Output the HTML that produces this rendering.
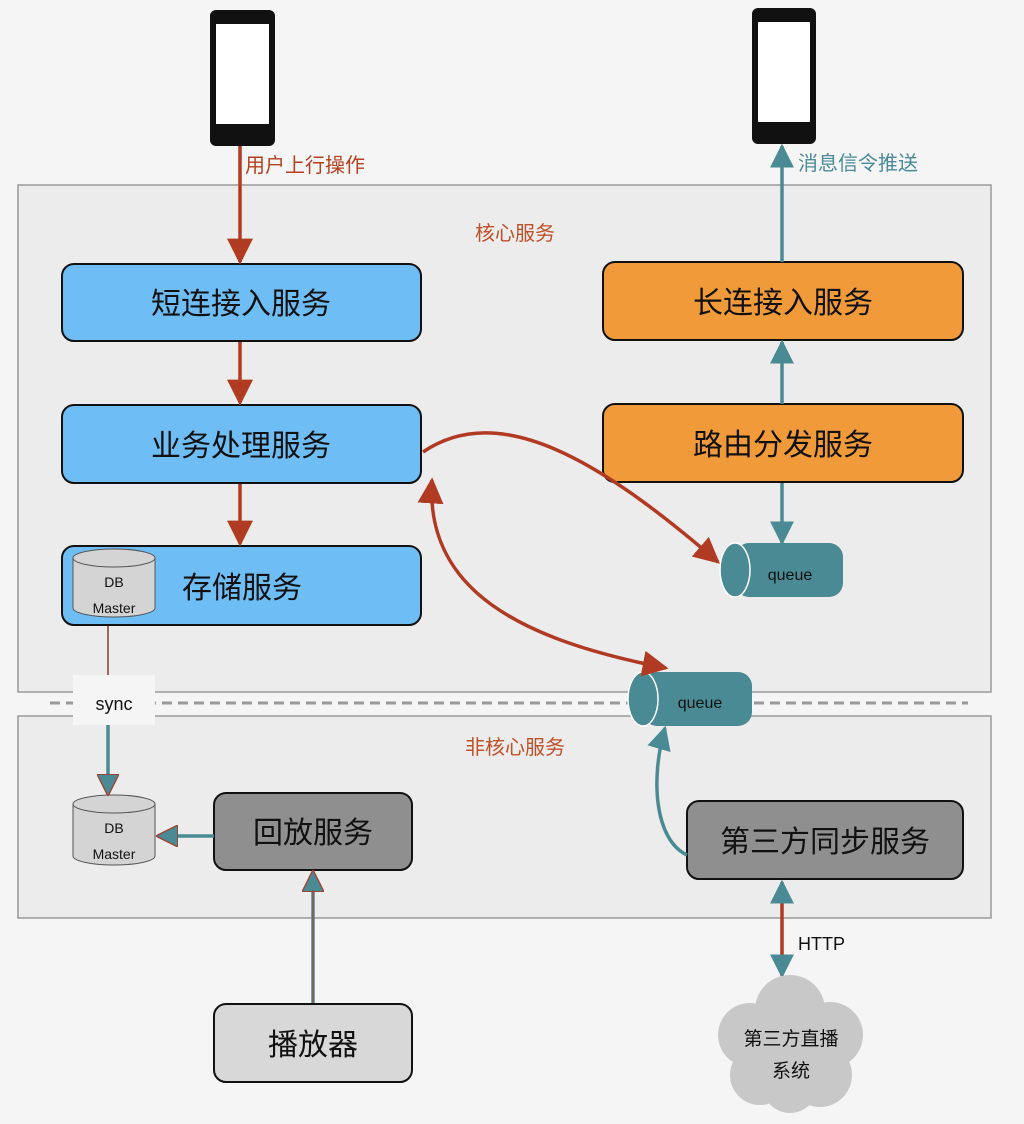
<!DOCTYPE html>
<html><head><meta charset="utf-8"><style>
html,body{margin:0;padding:0;background:#f4f5f4;}
svg{display:block;font-family:"Liberation Sans","Noto Sans CJK SC",sans-serif;}
</style></head><body>
<svg width="1024" height="1124" viewBox="0 0 1024 1124">
<defs>
<marker id="ar" markerWidth="10" markerHeight="10" refX="8" refY="5" orient="auto" markerUnits="userSpaceOnUse" viewBox="0 0 10 10"><path d="M0,0 L10,5 L0,10 z" fill="#b03a22"/></marker>
<marker id="ar2" viewBox="0 0 10 10" markerWidth="26" markerHeight="26" refX="9" refY="5" orient="auto-start-reverse" markerUnits="userSpaceOnUse"><path d="M0,0 L10,5 L0,10 z" fill="#b03a22"/></marker>
<marker id="at" viewBox="0 0 10 10" markerWidth="24" markerHeight="24" refX="9" refY="5" orient="auto-start-reverse" markerUnits="userSpaceOnUse"><path d="M0,0 L10,5 L0,10 z" fill="#4a8a94"/></marker>
<marker id="atr" viewBox="0 0 10 10" markerWidth="22" markerHeight="22" refX="9" refY="5" orient="auto-start-reverse" markerUnits="userSpaceOnUse"><path d="M0,0 L10,5 L0,10 z" fill="#4a8a94" stroke="#a04030" stroke-width="0.6"/></marker>
</defs>
<rect x="18" y="185" width="973" height="507" fill="#ececec" stroke="#9a9a9a" stroke-width="1.5"/>
<rect x="18" y="716" width="973" height="202" fill="#ececec" stroke="#9a9a9a" stroke-width="1.5"/>
<line x1="50" y1="703" x2="968" y2="703" stroke="#999" stroke-width="3" stroke-dasharray="10,6"/>

<!-- phones -->
<rect x="210" y="10" width="65" height="136" rx="6" fill="#111"/>
<rect x="216" y="24" width="53" height="100" fill="#fff"/>
<rect x="752" y="8" width="64" height="136" rx="6" fill="#111"/>
<rect x="758" y="22" width="52" height="100" fill="#fff"/>

<g font-size="20">
<text x="245" y="172" fill="#b5401f">用户上行操作</text>
<text x="798" y="170" fill="#4a8a99">消息信令推送</text>
<text x="515" y="240" fill="#c0502a" text-anchor="middle">核心服务</text>
<text x="515" y="754" fill="#c0502a" text-anchor="middle">非核心服务</text>
</g>

<!-- boxes -->
<g stroke="#111" stroke-width="2">
<rect x="62" y="264" width="359" height="77" rx="12" fill="#6fbdf5"/>
<rect x="62" y="405" width="359" height="78" rx="12" fill="#6fbdf5"/>
<rect x="62" y="546" width="359" height="79" rx="12" fill="#6fbdf5"/>
<rect x="603" y="262" width="360" height="78" rx="12" fill="#f09a3a"/>
<rect x="603" y="404" width="360" height="78" rx="12" fill="#f09a3a"/>
<rect x="214" y="793" width="198" height="77" rx="12" fill="#8f8f8f"/>
<rect x="687" y="801" width="276" height="78" rx="12" fill="#8f8f8f"/>
<rect x="214" y="1004" width="198" height="78" rx="12" fill="#d8d8d8"/>
</g>
<g font-size="30" fill="#111" text-anchor="middle">
<text x="241" y="314">短连接入服务</text>
<text x="241" y="456">业务处理服务</text>
<text x="242" y="598">存储服务</text>
<text x="783" y="313">长连接入服务</text>
<text x="783" y="455">路由分发服务</text>
<text x="313" y="843">回放服务</text>
<text x="825" y="852">第三方同步服务</text>
<text x="313" y="1055">播放器</text>
</g>

<!-- DB cylinders -->
<g>
<path d="M73,558 v50 a41,9 0 0 0 82,0 v-50" fill="#d4d4d4" stroke="#555" stroke-width="1"/>
<ellipse cx="114" cy="558" rx="41" ry="9" fill="#d4d4d4" stroke="#555" stroke-width="1"/>
<text x="114" y="587" font-size="14" text-anchor="middle" fill="#111">DB</text>
<text x="114" y="613" font-size="14" text-anchor="middle" fill="#111">Master</text>
<path d="M73,804 v52 a41,9 0 0 0 82,0 v-52" fill="#d4d4d4" stroke="#555" stroke-width="1"/>
<ellipse cx="114" cy="804" rx="41" ry="9" fill="#d4d4d4" stroke="#555" stroke-width="1"/>
<text x="114" y="833" font-size="14" text-anchor="middle" fill="#111">DB</text>
<text x="114" y="859" font-size="14" text-anchor="middle" fill="#111">Master</text>
</g>

<!-- queues -->
<g>
<rect x="735" y="543" width="108" height="54" rx="14" fill="#4a8a94"/>
<ellipse cx="735" cy="570" rx="15" ry="27" fill="#4a8a94" stroke="#fff" stroke-width="1.5"/>
<text x="790" y="580" font-size="16" text-anchor="middle" fill="#111">queue</text>
<rect x="643" y="672" width="109" height="54" rx="14" fill="#4a8a94"/>
<ellipse cx="643" cy="699" rx="15" ry="27" fill="#4a8a94" stroke="#fff" stroke-width="1.5"/>
<text x="700" y="708" font-size="16" text-anchor="middle" fill="#111">queue</text>
</g>

<!-- red arrows -->
<g stroke="#b03a22" stroke-width="3.5" fill="none">
<line x1="240" y1="146" x2="240" y2="262" marker-end="url(#ar2)"/>
<line x1="240" y1="342" x2="240" y2="403" marker-end="url(#ar2)"/>
<line x1="240" y1="484" x2="240" y2="544" marker-end="url(#ar2)"/>
<path d="M423,452 C500,400 600,460 718,562" marker-end="url(#ar2)"/>
<path d="M432,480 C425,590 520,640 666,668" marker-start="url(#ar2)" marker-end="url(#ar2)"/>
</g>
<!-- teal arrows -->
<g stroke="#4a8a94" stroke-width="3.5" fill="none">
<line x1="782" y1="262" x2="782" y2="146" marker-end="url(#at)"/>
<line x1="782" y1="404" x2="782" y2="342" marker-end="url(#at)"/>
<line x1="782" y1="483" x2="782" y2="543" marker-end="url(#at)"/>
<path d="M687,855 C655,840 650,780 665,728" marker-end="url(#at)"/>
<line x1="214" y1="836" x2="158" y2="836" marker-end="url(#atr)"/>
<line x1="313" y1="1003" x2="313" y2="872" marker-end="url(#atr)"/>
<line x1="108" y1="700" x2="108" y2="794" marker-end="url(#atr)"/>
</g>
<line x1="313" y1="1003" x2="313" y2="890" stroke="#b03a22" stroke-width="1"/>
<line x1="108" y1="626" x2="108" y2="690" stroke="#a0685c" stroke-width="2"/>
<rect x="73" y="675" width="82" height="50" fill="#f4f5f4"/>
<text x="114" y="710" font-size="18" text-anchor="middle" fill="#111">sync</text>

<!-- HTTP -->
<line x1="782" y1="882" x2="782" y2="976" stroke="#b03a22" stroke-width="3.5" marker-start="url(#at)" marker-end="url(#at)"/>
<text x="798" y="950" font-size="18" fill="#111">HTTP</text>

<!-- cloud -->
<g fill="#c8c8c8">
<circle cx="790" cy="1010" r="35"/>
<circle cx="750" cy="1035" r="32"/>
<circle cx="830" cy="1035" r="33"/>
<circle cx="760" cy="1075" r="30"/>
<circle cx="820" cy="1075" r="32"/>
<circle cx="790" cy="1085" r="28"/>
<circle cx="790" cy="1045" r="40"/>
</g>
<text x="791" y="1045" font-size="19" text-anchor="middle" fill="#111">第三方直播</text>
<text x="791" y="1077" font-size="19" text-anchor="middle" fill="#111">系统</text>
</svg>
</body></html>
